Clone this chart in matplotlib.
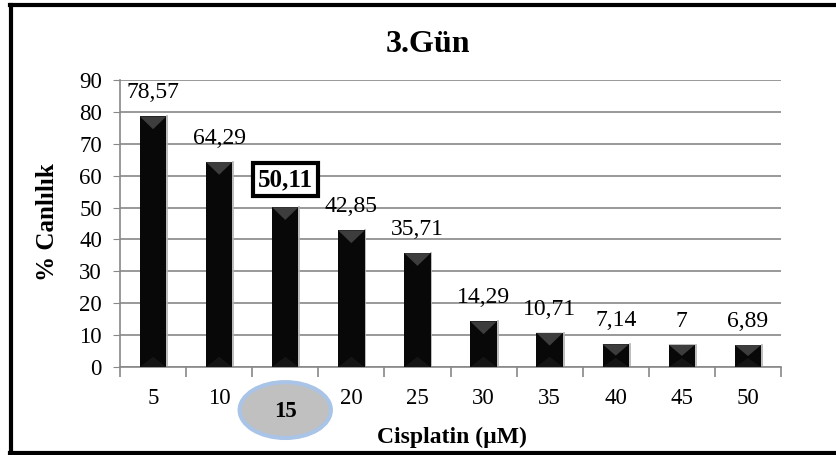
import matplotlib.pyplot as plt
from matplotlib.patches import Polygon, Ellipse
from matplotlib.lines import Line2D

# Cisplatin dozları ve 3. gün canlılık değerleri
doses = ["5", "10", "15", "20", "25", "30", "35", "40", "45", "50"]
viability = [78.57, 64.29, 50.11, 42.85, 35.71, 14.29, 10.71, 7.14, 7.0, 6.89]
value_labels = ["78,57", "64,29", "50,11", "42,85", "35,71", "14,29", "10,71", "7,14", "7", "6,89"]
highlight = 2  # 15 µM

plt.rcParams["font.family"] = ["Liberation Serif", "DejaVu Serif"]

fig = plt.figure(figsize=(8.37, 4.55), dpi=100)
ax = fig.add_axes([120 / 837, 1 - 367 / 455, 661 / 837, 287 / 455])

x = list(range(len(doses)))
width = 0.4
bars = ax.bar(x, viability, width=width, color="#080808", zorder=3)

# üst ve alt eğim (bevel) üçgenleri
bevel = 4.0
for xi, v in zip(x, viability):
    d = min(bevel, v / 2)
    l, r = xi - width / 2, xi + width / 2
    ax.add_patch(Polygon([(l, v), (r, v), (xi, v - d)], closed=True,
                         facecolor="#3d3d3d", edgecolor="none", zorder=4))
    ax.add_patch(Polygon([(l, 0), (r, 0), (xi, d * 0.8)], closed=True,
                         facecolor="#151515", edgecolor="none", zorder=4))
    ax.plot([r + 0.012, r + 0.012], [0, v], color="#b0b0b0", lw=1.2, zorder=2)

for i, (xi, v, lab) in enumerate(zip(x, viability, value_labels)):
    if i == highlight:
        ax.annotate(lab, (xi, v), xytext=(0, 20), textcoords="offset points",
                    ha="center", va="center", fontsize=18, fontweight="bold",
                    bbox=dict(boxstyle="square,pad=0.2", facecolor="white",
                              edgecolor="black", linewidth=3), zorder=6)
    else:
        ax.annotate(lab, (xi, v), xytext=(0, 17), textcoords="offset points",
                    ha="center", va="center", fontsize=17, zorder=6)

ax.set_xlim(-0.5, len(doses) - 0.5)
ax.set_ylim(0, 90)
ax.set_yticks(range(0, 91, 10))
ax.tick_params(axis="y", labelsize=16.5, length=5, color="#888888", pad=8)
ax.grid(axis="y", color="#888888", linewidth=1.2, zorder=0)
ax.set_axisbelow(True)

# kategori sınırlarında x tikleri
ax.set_xticks([i - 0.5 for i in range(len(doses) + 1)])
ax.set_xticklabels([])
ax.tick_params(axis="x", length=7, color="#888888", width=1.2)
for i, lab in enumerate(doses):
    if i == highlight:
        continue
    ax.text(i, -10, lab, ha="center", va="center", fontsize=16.5,
            transform=ax.transData, clip_on=False)

# vurgulanan doz etiketi
ax.add_patch(Ellipse((highlight, -13.5), 1.38, 17.5, facecolor="#c0c0c0",
                     edgecolor="#a9c4e6", linewidth=3, clip_on=False, zorder=5))
ax.text(highlight, -14, doses[highlight], ha="center", va="center",
        fontsize=16.5, fontweight="bold", clip_on=False, zorder=6)

for side in ["top", "right"]:
    ax.spines[side].set_visible(False)
ax.spines["left"].set_color("#888888")
ax.spines["left"].set_linewidth(1.2)
ax.spines["bottom"].set_color("#888888")
ax.spines["bottom"].set_linewidth(1.2)

fig.text(428 / 837, 1 - 45 / 455, "3.Gün", ha="center", va="center",
         fontsize=23, fontweight="bold")
fig.text(48 / 837, 1 - 222 / 455, "% Canlılık", ha="center", va="center",
         rotation=90, fontsize=18, fontweight="bold")
fig.text(452 / 837, 1 - 437 / 455, "Cisplatin (µM)", ha="center", va="center",
         fontsize=17, fontweight="bold")

# dış çerçeve
lw = 3.0
fig.add_artist(Line2D([11.5 / 837, 11.5 / 837], [0, 1 - 5 / 455], color="black",
                      lw=lw, transform=fig.transFigure))
fig.add_artist(Line2D([10 / 837, 1], [1 - 5 / 455, 1 - 5 / 455], color="black",
                      lw=lw, transform=fig.transFigure))
fig.add_artist(Line2D([10 / 837, 1], [2 / 455, 2 / 455], color="black",
                      lw=lw, transform=fig.transFigure))

fig.savefig("out.png", dpi=100)
